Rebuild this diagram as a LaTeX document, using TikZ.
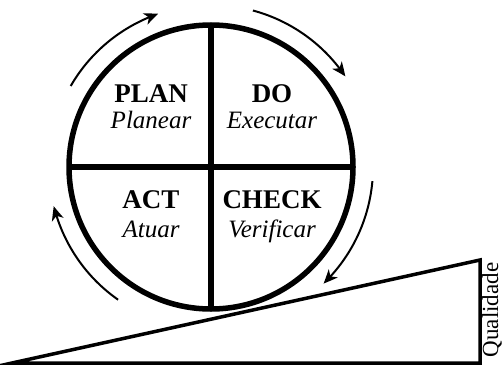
\documentclass[tikz,border=0pt]{standalone}
\usepackage{fontspec}
\setmainfont{Liberation Serif}
\usepackage{tikz}
\usetikzlibrary{arrows.meta,positioning,calc,bending}

\begin{document}
\begin{tikzpicture}[
  x=1pt,y=1pt,
  roda/.style={draw=black,line width=5.5pt},
  rampa/.style={draw=black,line width=3.5pt,line join=miter},
  ar/.style={-{Stealth[length=14pt,width=12pt,inset=4pt,bend]},draw=black,line width=2pt},
  fase/.style={font=\fontsize{27}{29}\bfseries\selectfont,anchor=base,inner sep=0pt},
  verbo/.style={font=\fontsize{25}{27}\itshape\selectfont,anchor=base,inner sep=0pt}
]
\useasboundingbox (0,0) rectangle (502,365);

% ---- rampa
\coordinate (r1) at (12,2);
\coordinate (r2) at (480,2);
\coordinate (r3) at (480,105);
\draw[rampa] (r1) -- (r2) -- (r3) -- cycle;
\node[font=\fontsize{23}{25}\selectfont,rotate=90,anchor=base,inner sep=0pt] (qual) at (498,55) {Qualidade};

% ---- ciclo
\coordinate (c) at (211,198);
\draw[roda] (c) circle[radius=142];
\draw[roda] ($(c)+(0,142)$) -- ($(c)+(0,-142)$);
\draw[roda] ($(c)+(-142,0)$) -- ($(c)+(142,0)$);

% ---- quadrantes
\node[fase]  (plan)    at (151,263) {PLAN};
\node[verbo] (planear) at (151,237) {Planear};
\node[fase]  (do)      at (272,263) {DO};
\node[verbo] (exec)    at (272,237) {Executar};
\node[fase]  (act)     at (151,157) {ACT};
\node[verbo] (atuar)   at (151,128) {Atuar};
\node[fase]  (check)   at (272,157) {CHECK};
\node[verbo] (verif)   at (272,128) {Verificar};

% ---- setas
\draw[ar] (c) ++(150:162) arc[start angle=150,end angle=109,radius=162];
\draw[ar] (c) ++(75:162)  arc[start angle=75,end angle=34,radius=162];
\draw[ar] (c) ++(-5:162)  arc[start angle=-5,end angle=-46,radius=162];
\draw[ar] (c) ++(235:162) arc[start angle=235,end angle=194,radius=162];
\end{tikzpicture}
\end{document}
